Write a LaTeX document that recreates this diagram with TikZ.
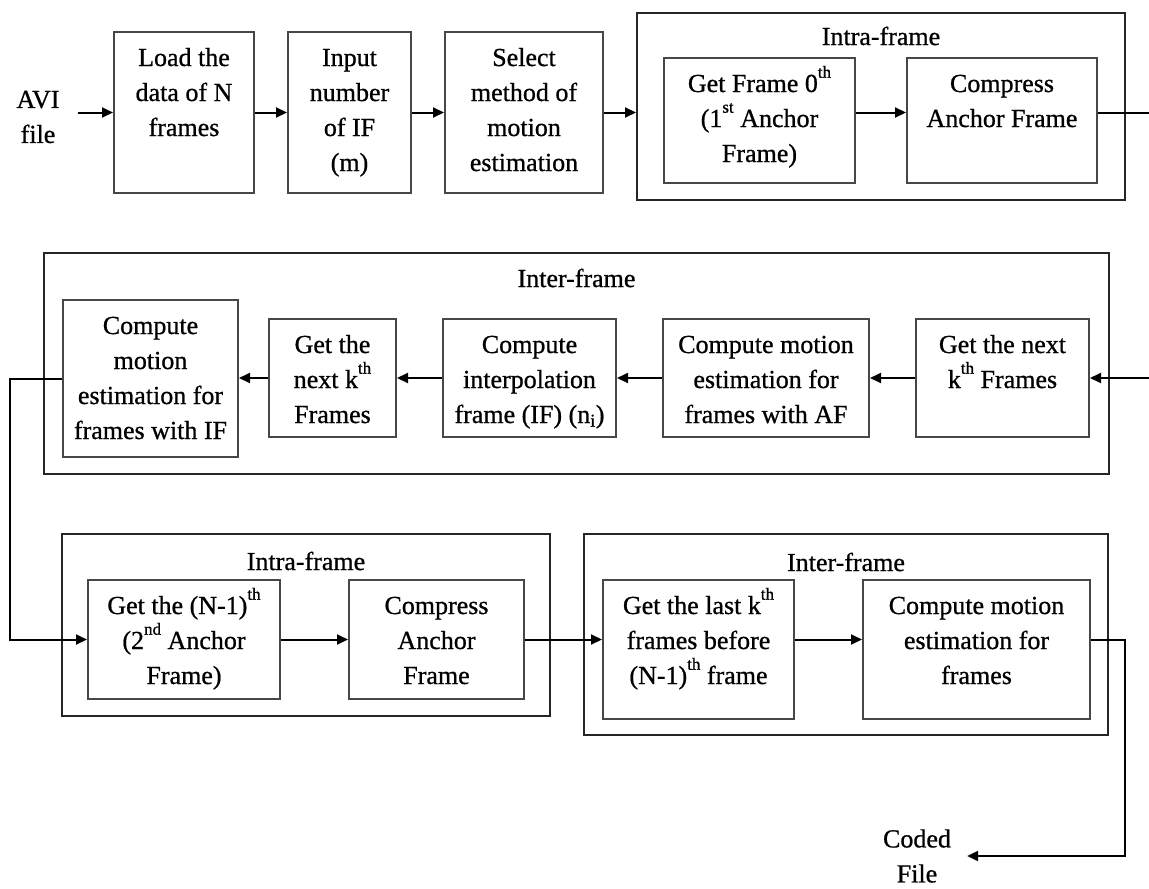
\documentclass[tikz,border=0pt]{standalone}
\usepackage{fontspec}
\setmainfont{Liberation Serif}[BoldFont={Liberation Serif}, BoldFeatures={FakeBold=0.8}]
\usetikzlibrary{arrows.meta}
% top-aligned, centred text block of given width and height
\newcommand\boxtxt[3]{\parbox[c][#2][t]{#1}{\centering\rule{0pt}{34pt}#3}}
% small, high ordinal suffix
\newcommand\sups[1]{\raisebox{0.55em}{\fontsize{17}{17}\selectfont #1}}
\begin{document}
\begin{tikzpicture}[x=1pt,y=-1pt,
  font=\fontsize{26}{35}\selectfont\bfseries,
  blk/.style={draw=black!72, line width=2pt, inner sep=0pt, fill=white},
  cont/.style={draw=black!85, line width=2pt, inner sep=0pt},
  ttl/.style={inner sep=0pt},
  lbl/.style={align=center, inner sep=0pt},
  ln/.style={line width=2pt},
  arr/.style={ln, -{Triangle[length=11pt,width=10pt]}}]

\fill[white] (0,0) rectangle (1149,889);
\useasboundingbox (0,0) rectangle (1149,889);

% ---------- containers ----------
\node[cont, minimum width=488pt, minimum height=187pt] (c1) at (881,106.5) {};
\node[ttl] (t1) at (881,36) {Intra-frame};
\node[cont, minimum width=1065pt, minimum height=221pt] (c2) at (576.5,363.5) {};
\node[ttl] (t2) at (576.5,278) {Inter-frame};
\node[cont, minimum width=488pt, minimum height=182pt] (c3) at (306,625) {};
\node[ttl] (t3) at (306,561) {Intra-frame};
\node[cont, minimum width=524pt, minimum height=201pt] (c4) at (846,634.5) {};
\node[ttl] (t4) at (846,562) {Inter-frame};

% ---------- row 1 ----------
\node[lbl, inner xsep=18pt, inner ysep=10pt] (avi) at (38,117) {AVI\\file};
\node[blk] (b1) at (184,112.5) {\boxtxt{140pt}{161pt}{Load the\\data of N\\frames}};
\node[blk] (b2) at (349.5,112.5) {\boxtxt{123pt}{161pt}{Input\\number\\of IF\\(m)}};
\node[blk] (b3) at (524,112.5) {\boxtxt{158pt}{161pt}{Select\\method of\\motion\\estimation}};
\node[blk] (gf) at (759.5,120.5) {\boxtxt{191pt}{125pt}{Get Frame 0\sups{th}\\(1\sups{st} Anchor\\Frame)}};
\node[blk] (cp) at (1002,120.5) {\boxtxt{190pt}{125pt}{Compress\\Anchor Frame}};
\coordinate (exit1) at (1149,112.5);

% ---------- row 2 ----------
\node[blk] (A) at (150.5,378.5) {\boxtxt{175pt}{157pt}{Compute\\motion\\estimation for\\frames with IF}};
\node[blk] (B) at (332.5,378) {\boxtxt{127pt}{118pt}{Get the\\next k\sups{th}\\Frames}};
\node[blk] (C) at (529.5,378) {\boxtxt{173pt}{118pt}{Compute\\interpolation\\frame (IF) (n\textsubscript{i})}};
\node[blk] (D) at (766,378) {\boxtxt{206pt}{118pt}{Compute motion\\estimation for\\frames with AF}};
\node[blk] (E) at (1002.5,378) {\boxtxt{173pt}{118pt}{Get the next\\k\sups{th} Frames}};
\coordinate (entry2) at (1149,378);
\coordinate (lx) at (10,0);

% ---------- row 3 ----------
\node[blk] (F) at (184,639.5) {\boxtxt{192pt}{119pt}{Get the (N-1)\sups{th}\\(2\sups{nd} Anchor\\Frame)}};
\node[blk] (G) at (436.5,639.5) {\boxtxt{175pt}{119pt}{Compress\\Anchor\\Frame}};
\node[blk] (H) at (698.5,649.5) {\boxtxt{191pt}{139pt}{Get the last k\sups{th}\\frames before\\(N-1)\sups{th} frame}};
\node[blk] (I) at (976.5,649.5) {\boxtxt{227pt}{139pt}{Compute motion\\estimation for\\frames}};
\node[lbl, inner xsep=16pt, inner ysep=8pt] (coded) at (917,856) {Coded\\File};
\coordinate (ox) at (1125,0);

% ---------- connectors ----------
\draw[arr] (avi.east |- b1.west) -- (b1.west);
\draw[arr] (b1.east) -- (b2.west);
\draw[arr] (b2.east) -- (b3.west);
\draw[arr] (b3.east) -- (b3.east -| c1.west);
\draw[arr] (gf.east |- b3.east) -- (cp.west |- b3.east);
\draw[ln] (cp.east |- exit1) -- (exit1);

\draw[arr] (entry2) -- (E.east);
\draw[arr] (E.west) -- (D.east);
\draw[arr] (D.west) -- (C.east);
\draw[arr] (C.west) -- (B.east);
\draw[arr] (B.west) -- (B.west -| A.east);
\draw[arr] (A.west) -- (A.west -| lx) |- (F.west);

\draw[arr] (F.east) -- (G.west);
\draw[arr] (G.east) -- (G.east -| H.west);
\draw[arr] (H.east |- G.east) -- (I.west |- G.east);
\draw[arr] (I.east |- G.east) -| (ox |- coded.east) -- (coded.east);
\end{tikzpicture}
\end{document}
